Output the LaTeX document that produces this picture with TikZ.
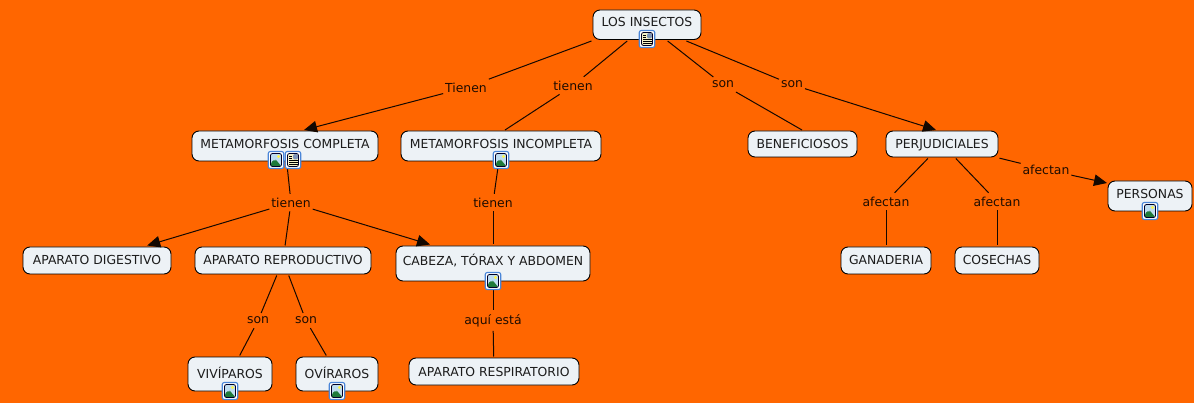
\documentclass[tikz,border=0pt]{standalone}
\usepackage{fontspec}
\setmainfont{DejaVu Sans}
\usetikzlibrary{arrows.meta}
\definecolor{bg}{HTML}{FF6600}
\definecolor{boxfill}{HTML}{EDF2F6}
\definecolor{iconblue}{HTML}{4A86D8}
\definecolor{ink}{HTML}{1C1C1C}
\definecolor{sky}{HTML}{BFDDF0}
\definecolor{hill}{HTML}{1F7A3A}
\definecolor{paper}{HTML}{F6F2C8}
\definecolor{photo}{HTML}{7F96B8}
\tikzset{
  x=1pt,y=-1pt,
  concept/.style={draw=black,line width=0.9pt,fill=boxfill,rounded corners=7pt,anchor=north west,inner xsep=0pt,inner ysep=0pt,text=ink,font=\fontsize{12.4}{14}\selectfont,outer sep=1.5pt,xshift=-1.5pt,yshift=1.5pt},
  linklabel/.style={inner xsep=1pt,inner ysep=3pt,text=black!88!bg,font=\fontsize{12.4}{14}\selectfont,outer sep=1pt,yshift=-0.6pt},
  conn/.style={draw=black!92!bg,line width=1pt},
  arr/.style={conn,-{Triangle[length=13pt,width=11.5pt]}},
  iconbase/.style={draw=iconblue,line width=1.1pt,fill=white,rounded corners=2pt,minimum width=15.5pt,minimum height=17pt,inner sep=0pt},
  imgicon/.style={iconbase,path picture={
    \fill[sky] ([shift={(-5.5pt,-6.5pt)}]path picture bounding box.center) rectangle ([shift={(5.5pt,6.5pt)}]path picture bounding box.center);
    \fill[yellow!70!white] ([shift={(2.5pt,3.5pt)}]path picture bounding box.center) circle (1.7pt);
    \fill[hill] ([shift={(-5.5pt,-6.5pt)}]path picture bounding box.center) -- ([shift={(-5.5pt,-3pt)}]path picture bounding box.center) -- ([shift={(-1pt,1pt)}]path picture bounding box.center) -- ([shift={(1pt,-1pt)}]path picture bounding box.center) -- ([shift={(5.5pt,-6.5pt)}]path picture bounding box.center) -- cycle;
    \draw[black!85!blue,line width=0.8pt] ([shift={(-5.5pt,-6.5pt)}]path picture bounding box.center) rectangle ([shift={(5.5pt,6.5pt)}]path picture bounding box.center);
  }},
  docicon/.style={iconbase,path picture={
    \fill[paper] ([shift={(-5.5pt,-6.5pt)}]path picture bounding box.center) rectangle ([shift={(5.5pt,6.5pt)}]path picture bounding box.center);
    \fill[photo] ([shift={(0pt,0.5pt)}]path picture bounding box.center) rectangle ([shift={(5pt,6pt)}]path picture bounding box.center);
    \foreach \yy in {-4.5,-2.5,-0.5}{\draw[black,line width=0.7pt] ([shift={(-4pt,\yy pt)}]path picture bounding box.center) -- ([shift={(4.5pt,\yy pt)}]path picture bounding box.center);}
    \foreach \yy in {1.5,3.5}{\draw[black,line width=0.7pt] ([shift={(-4pt,\yy pt)}]path picture bounding box.center) -- ([shift={(-1pt,\yy pt)}]path picture bounding box.center);}
    \draw[black!85!blue,line width=0.8pt] ([shift={(-5.5pt,-6.5pt)}]path picture bounding box.center) rectangle ([shift={(5.5pt,6.5pt)}]path picture bounding box.center);
  }},
}
\begin{document}
\begin{tikzpicture}
\useasboundingbox[fill=bg] (0,0) rectangle (1194,403);
% concepts
\node[concept,minimum width=108pt,text height=17pt,text depth=12.5pt] (ins) at (593,10) {LOS INSECTOS};
\node[concept,minimum width=186pt,text height=18pt,text depth=12pt] (mc) at (192,131) {METAMORFOSIS COMPLETA};
\node[concept,minimum width=200pt,text height=18pt,text depth=12pt] (mi) at (401,131) {METAMORFOSIS INCOMPLETA};
\node[concept,minimum width=109pt,text height=18pt,text depth=8pt] (ben) at (748,131) {BENEFICIOSOS};
\node[concept,minimum width=112pt,text height=18pt,text depth=8pt] (per) at (886,131) {PERJUDICIALES};
\node[concept,minimum width=84pt,text height=18pt,text depth=12pt] (pers) at (1108,181) {PERSONAS};
\node[concept,minimum width=148pt,text height=18pt,text depth=9pt] (dig) at (23,247) {APARATO DIGESTIVO};
\node[concept,minimum width=176pt,text height=18pt,text depth=9pt] (rep) at (195,247) {APARATO REPRODUCTIVO};
\node[concept,minimum width=194pt,text height=20pt,text depth=15pt] (cab) at (396,246) {CABEZA, TÓRAX Y ABDOMEN};
\node[concept,minimum width=90pt,text height=18pt,text depth=9pt] (gan) at (841,247) {GANADERIA};
\node[concept,minimum width=84pt,text height=18pt,text depth=9pt] (cos) at (955,247) {COSECHAS};
\node[concept,minimum width=84pt,text height=21pt,text depth=13pt] (viv) at (188,357) {VIVÍPAROS};
\node[concept,minimum width=82pt,text height=21pt,text depth=13pt] (ovi) at (296,357) {OVÍRAROS};
\node[concept,minimum width=170pt,text height=18pt,text depth=9pt] (res) at (409,358) {APARATO RESPIRATORIO};
% link labels
\node[linklabel] (l1) at (466,87) {Tienen};
\node[linklabel] (l2) at (573,85) {tienen};
\node[linklabel] (l3) at (723,84) {son};
\node[linklabel] (l4) at (792,84) {son};
\node[linklabel] (l5) at (291,202) {tienen};
\node[linklabel] (l6) at (493,202) {tienen};
\node[linklabel] (l7) at (886,201) {afectan};
\node[linklabel] (l8) at (997,201) {afectan};
\node[linklabel] (l9) at (1046,169) {afectan};
\node[linklabel] (l10) at (258,320) {son};
\node[linklabel] (l11) at (306,320) {son};
\node[linklabel] (l12) at (493,320) {aquí está};
% free ends
\coordinate (mctip) at (304,130);
\coordinate (pertip) at (936,130);
\coordinate (miend) at (505,130);
\coordinate (benend) at (802,130);
\coordinate (perstip) at (1107,183);
% connectors
\draw[conn] (ins.south west) -- (l1);
\draw[arr] (l1) -- (mctip);
\draw[conn] (ins) -- (l2);
\draw[conn] (l2) -- (miend);
\draw[conn] (ins) -- (l3);
\draw[conn] (l3) -- (benend);
\draw[conn] (ins) -- (l4);
\draw[arr] (l4) -- (pertip);
\draw[conn] (mc) -- (l5);
\draw[arr] (l5) -- (dig);
\draw[conn] (l5) -- (rep);
\draw[arr] (l5) -- (cab);
\draw[conn] (mi) -- (l6);
\draw[conn] (l6) -- (cab);
\draw[conn] (cab) -- (l12);
\draw[conn] (l12) -- (res);
\draw[conn] (per) -- (l7);
\draw[conn] (l7) -- (gan);
\draw[conn] (per) -- (l8);
\draw[conn] (l8) -- (cos);
\draw[conn] (per) -- (l9);
\draw[arr] (l9) -- (perstip);
\draw[conn] (rep) -- (l10);
\draw[conn] (l10) -- (viv);
\draw[conn] (rep) -- (l11);
\draw[conn] (l11) -- (ovi);
% icons
\node[docicon] (i1) at (647,39) {};
\node[imgicon] (i2) at (276,160) {};
\node[docicon] (i3) at (293,160) {};
\node[imgicon] (i4) at (501,160) {};
\node[imgicon] (i5) at (493,281) {};
\node[imgicon] (i6) at (1150,211) {};
\node[imgicon] (i7) at (230,391) {};
\node[imgicon] (i8) at (337,391) {};
\end{tikzpicture}
\end{document}
